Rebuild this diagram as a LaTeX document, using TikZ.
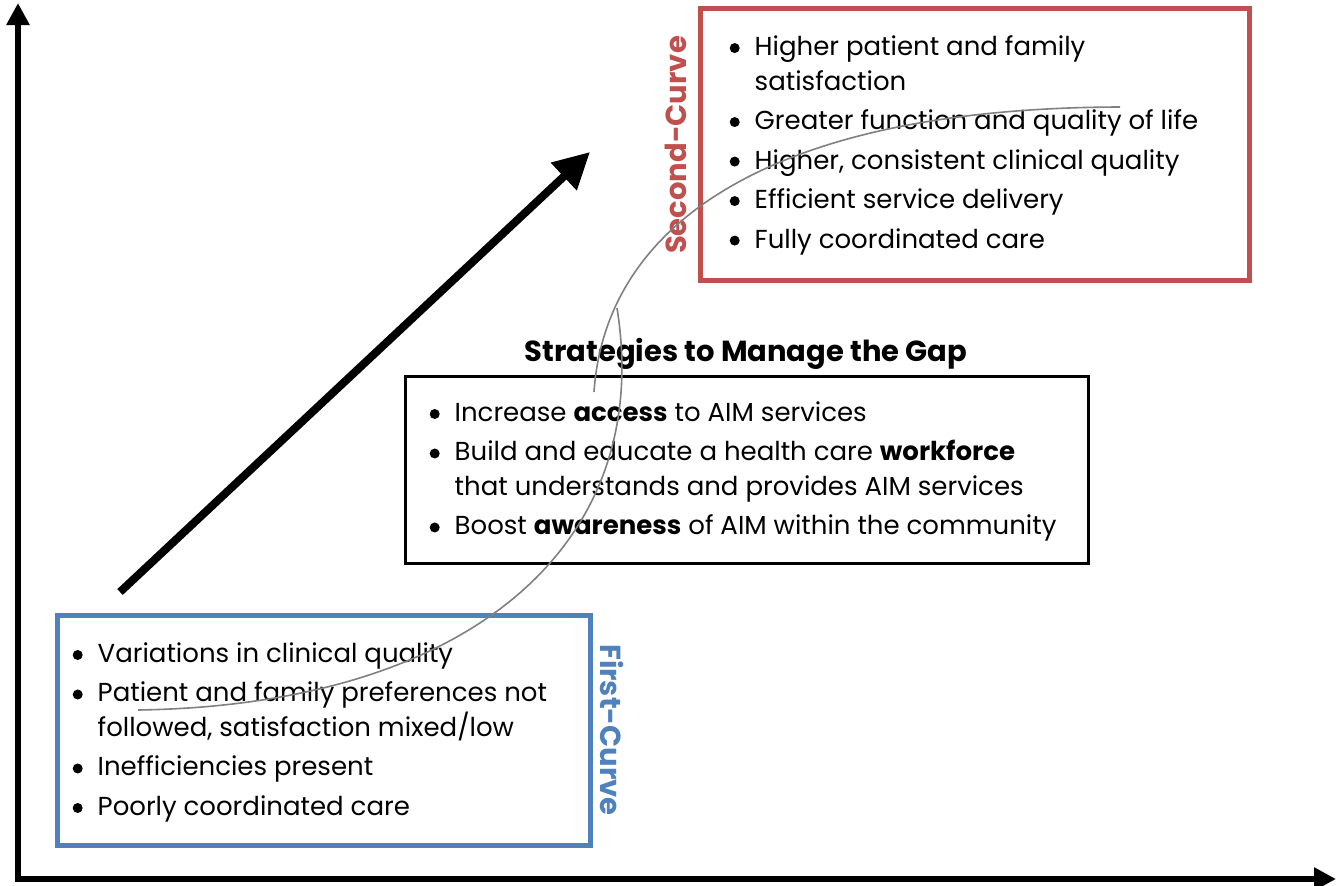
\documentclass[tikz,border=0pt]{standalone}
\usepackage{fontspec}
\setmainfont{Poppins}
\usetikzlibrary{positioning,arrows.meta}
\definecolor{curvered}{HTML}{C0504D}
\definecolor{curveblue}{HTML}{4F81BD}
\newcommand{\dotmark}{\tikz[baseline={(0pt,0pt)}]\fill (0pt,7.5pt) circle[radius=5pt];}
\newcommand{\itm}[1]{\makebox[29pt][l]{\hspace{4pt}\dotmark}#1}
\newcommand{\cont}[1]{\hspace*{29pt}#1}
\begin{document}
\begin{tikzpicture}[x=1pt,y=-1pt,
  axis/.style={line width=6pt,-{Triangle[width=22pt,length=22pt]}},
  bigarrow/.style={line width=8pt,-{Triangle[width=36pt,length=36pt]}},
  curvebox/.style={draw,line width=5pt,minimum width=#1},
  listtext/.style={anchor=north west,align=left,inner sep=0pt,font=\fontsize{26}{34.5}\selectfont},
  sidelabel/.style={font=\fontsize{29}{32}\selectfont\bfseries},
  scurve/.style={draw=gray,line width=1.6pt}]
  \useasboundingbox (0,0) rectangle (1336,886);
  % axes
  \coordinate (origin) at (18,882);
  \coordinate (ytip) at (18,3);
  \coordinate (xtip) at (1336,879);
  \draw[axis] (origin) -- (ytip);
  \draw[axis] (15,879) -- (xtip);
  % progress arrow
  \coordinate (progstart) at (120,592);
  \coordinate (progtip) at (590,152);
  \draw[bigarrow] (progstart) -- (progtip);
  % boxes
  \node (secondbox) [curvebox=549pt,draw=curvered,minimum height=272pt] at (974.5,144) {};
  \node (firstbox) [curvebox=533pt,draw=curveblue,minimum height=230pt] at (323.5,730) {};
  \node (gapbox) [draw,line width=3pt,minimum width=683pt,minimum height=187pt] at (746.5,469.5) {};
  \node (gaptitle) [font=\fontsize{29}{32}\selectfont\bfseries] at (746,354) {Strategies to Manage the Gap};
  % lists
  \node (secondlist) [listtext] at ([shift={(28,30)}]secondbox.north west) {%
    \itm{Higher patient and family}\\
    \cont{satisfaction}\\[5pt]
    \itm{Greater function and quality of life}\\[5pt]
    \itm{Higher, consistent clinical quality}\\[5pt]
    \itm{Efficient service delivery}\\[5pt]
    \itm{Fully coordinated care}};
  \node (gaplist) [listtext] at ([shift={(22,27)}]gapbox.north west) {%
    \itm{Increase \textbf{access} to AIM services}\\[5pt]
    \itm{Build and educate a health care \textbf{workforce}}\\
    \cont{that understands and provides AIM services}\\[5pt]
    \itm{Boost \textbf{awareness} of AIM within the community}};
  \node (firstlist) [listtext] at ([shift={(14,30)}]firstbox.north west) {%
    \itm{Variations in clinical quality}\\[5pt]
    \itm{Patient and family preferences not}\\
    \cont{followed, satisfaction mixed/low}\\[5pt]
    \itm{Inefficiencies present}\\[5pt]
    \itm{Poorly coordinated care}};
  % curve labels
  \node (secondlabel) [sidelabel,text=curvered,rotate=90] at (676,145) {Second-Curve};
  \node (firstlabel) [sidelabel,text=curveblue,rotate=-90] at (612,730) {First-Curve};
  % s-curves
  \coordinate (c1start) at (138,710);
  \coordinate (c1end) at (617,308);
  \coordinate (c2start) at (594,392);
  \coordinate (c2end) at (1120,107);
  \draw[scurve] (c1start) .. controls (470,705) and (655,545) .. (c1end);
  \draw[scurve] (c2start) .. controls (605,230) and (760,108) .. (c2end);
\end{tikzpicture}
\end{document}
